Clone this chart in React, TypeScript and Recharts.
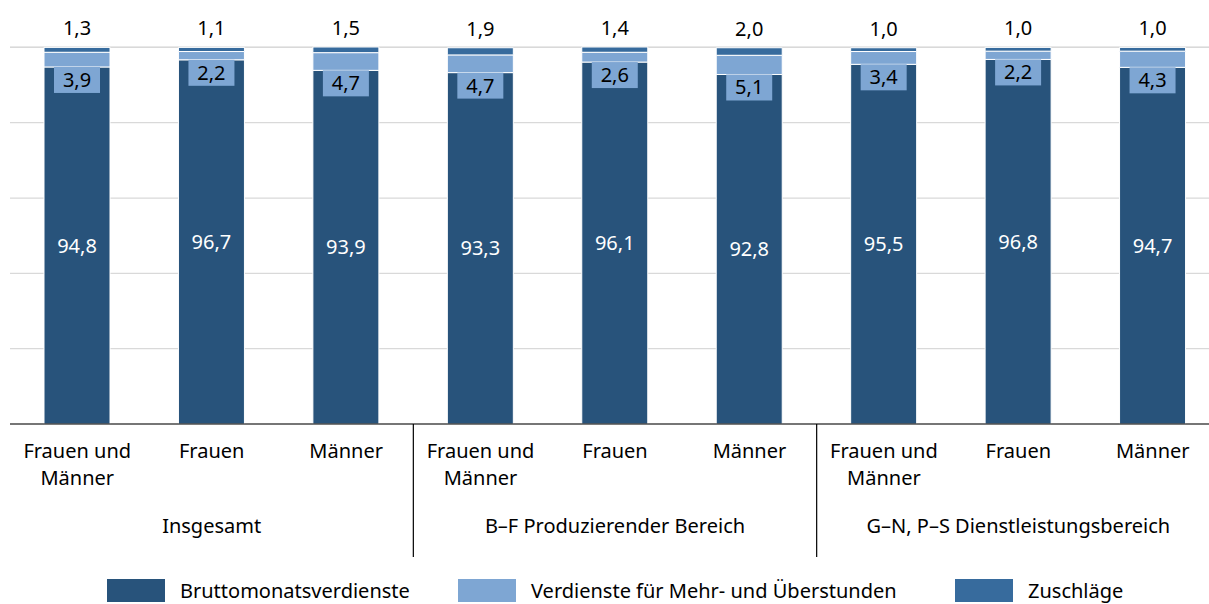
import { BarChart, Bar, XAxis, YAxis, CartesianGrid, Legend, LabelList } from 'recharts';

const groups = ['Insgesamt', 'B–F Produzierender Bereich', 'G–N, P–S Dienstleistungsbereich'];
const categoryLines = [['Frauen und', 'Männer'], ['Frauen'], ['Männer']];

const brutto = [94.8, 96.7, 93.9, 93.3, 96.1, 92.8, 95.5, 96.8, 94.7];
const mehrarbeit = [3.9, 2.2, 4.7, 4.7, 2.6, 5.1, 3.4, 2.2, 4.3];
const zuschlaege = [1.3, 1.1, 1.5, 1.9, 1.4, 2.0, 1.0, 1.0, 1.0];

const yTicks = [0, 20, 40, 60, 80, 100];

const DARK = '#28537b';
const LIGHT = '#7ea6d3';
const MID = '#376b9d';
const FONT = '"Noto Sans", sans-serif';

const W = 1220;
const H = 604;
const LEFT = 10;
const BAND = (W - LEFT) / 9;

const data = brutto.map((v, i) => ({
  key: `${i}`,
  brutto: v,
  mehr: mehrarbeit[i],
  zuschlag: zuschlaege[i],
}));

const fmt = (v: any) => Number(v).toFixed(1).replace('.', ',');

const CategoryTick = (props: any) => {
  const { x, y, payload } = props;
  const i = payload.index;
  const lines = categoryLines[i % 3];
  return (
    <g>
      {lines.map((l, k) => (
        <text key={k} x={x} y={y + 34 + k * 27} textAnchor="middle" fontSize={20} fontFamily={FONT} fill="#000">
          {l}
        </text>
      ))}
      {i % 3 === 1 && (
        <text x={x} y={y + 109} textAnchor="middle" fontSize={20} fontFamily={FONT} fill="#000">
          {groups[Math.floor(i / 3)]}
        </text>
      )}
      {(i === 2 || i === 5) && (
        <line x1={x + BAND / 2} x2={x + BAND / 2} y1={y} y2={y + 133} stroke="#000" strokeWidth={1.2} />
      )}
    </g>
  );
};

const MiddleLabel = (props: any) => {
  const { x, y, width, height, value } = props;
  const cx = x + width / 2;
  const top = y + height;
  return (
    <g>
      <rect x={cx - 23} y={top} width={46} height={26} fill={LIGHT} />
      <text x={cx} y={top + 20} textAnchor="middle" fontSize={20} fontFamily={FONT} fill="#000">
        {fmt(value)}
      </text>
    </g>
  );
};

const legendItems = [
  { name: 'Bruttomonatsverdienste', color: DARK, left: 107 },
  { name: 'Verdienste für Mehr- und Überstunden', color: LIGHT, left: 458 },
  { name: 'Zuschläge', color: MID, left: 955 },
];

const LegendContent = () => (
  <div style={{ position: 'relative', height: 30, fontFamily: FONT, fontSize: 20 }}>
    {legendItems.map((it) => (
      <div key={it.name} style={{ position: 'absolute', left: it.left, top: 13, display: 'flex', alignItems: 'center' }}>
        <div style={{ width: 58, height: 23, background: it.color, marginRight: 15 }} />
        <span style={{ color: '#000', whiteSpace: 'nowrap' }}>{it.name}</span>
      </div>
    ))}
  </div>
);

export default function App() {
  return (
    <div style={{ position: 'absolute', left: 0, top: 0, width: 1209, height: H, overflow: 'hidden', background: '#fff' }}>
      <BarChart width={W} height={H} data={data} margin={{ top: 47, right: 0, bottom: 10, left: LEFT }} barSize={66}>
        <CartesianGrid vertical={false} stroke="#d9d9d9" strokeWidth={1.2} />
        <YAxis hide domain={[0, 100]} ticks={yTicks} />
        <XAxis
          dataKey="key"
          height={140}
          tickLine={false}
          tickSize={0}
          tickMargin={0}
          axisLine={{ stroke: '#000', strokeWidth: 1.2 }}
          tick={<CategoryTick />}
          interval={0}
        />
        <Legend
          verticalAlign="bottom"
          content={<LegendContent />}
          wrapperStyle={{ left: 0, width: W, height: 30 }}
        />
        <Bar dataKey="brutto" name="Bruttomonatsverdienste" stackId="a" fill={DARK} stroke="#fff" strokeWidth={1} isAnimationActive={false}>
          <LabelList dataKey="brutto" position="center" formatter={fmt} fill="#fff" fontSize={20} fontFamily={FONT} />
        </Bar>
        <Bar dataKey="mehr" name="Verdienste für Mehr- und Überstunden" stackId="a" fill={LIGHT} stroke="#fff" strokeWidth={1} isAnimationActive={false}>
          <LabelList dataKey="mehr" content={<MiddleLabel />} />
        </Bar>
        <Bar dataKey="zuschlag" name="Zuschläge" stackId="a" fill={MID} stroke="#fff" strokeWidth={1} isAnimationActive={false}>
          <LabelList dataKey="zuschlag" position="top" offset={12} formatter={fmt} fill="#000" fontSize={20} fontFamily={FONT} />
        </Bar>
      </BarChart>
    </div>
  );
}
